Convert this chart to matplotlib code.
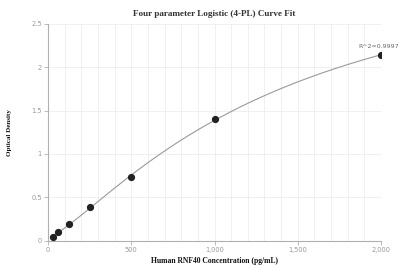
import numpy as np
import matplotlib
matplotlib.use("Agg")
import matplotlib.pyplot as plt
from matplotlib.ticker import FuncFormatter, MultipleLocator

conc = [31.25, 62.5, 125, 250, 500, 1000, 2000]
od = [0.044, 0.100, 0.187, 0.383, 0.733, 1.400, 2.142]
title = "Four parameter Logistic (4-PL) Curve Fit"
xlabel = "Human RNF40 Concentration (pg/mL)"
ylabel = "Optical Density"
r2_text = "R^2=0.9997"

x = np.array(conc, float)
y = np.array(od, float)

def f(p, xx):
    a, b, c, d = p
    return d + (a - d) / (1.0 + (xx / c) ** b)

# Levenberg-Marquardt fit of the 4PL model
p = np.array([0.0, 1.2, 2000.0, 4.0])
lam = 1e-2
def sse(pp):
    return np.sum((f(pp, x) - y) ** 2)
for _ in range(2000):
    r = f(p, x) - y
    J = np.zeros((len(x), 4))
    for k in range(4):
        dp = np.zeros(4)
        h = 1e-6 * max(abs(p[k]), 1e-3)
        dp[k] = h
        J[:, k] = (f(p + dp, x) - f(p - dp, x)) / (2 * h)
    A = J.T @ J
    g = J.T @ r
    step = np.linalg.solve(A + lam * np.diag(np.diag(A) + 1e-12), -g)
    pn = p + step
    if pn[2] > 0 and pn[1] > 0 and sse(pn) < sse(p):
        p = pn
        lam *= 0.5
    else:
        lam *= 4
    if lam > 1e12:
        break

xs = np.linspace(x.min(), x.max(), 400)
ys = f(p, xs)

fig = plt.figure(figsize=(3.98, 2.69), dpi=100)
ax = fig.add_axes([48 / 398, 1 - 240.5 / 269, (381 - 48) / 398, (240.5 - 24) / 269])

ax.plot(xs, ys, color="#9a9a9a", lw=0.8, zorder=2)
ax.plot(x, y, "o", color="#222222", ms=4.2, zorder=3)
ax.annotate(r2_text, (x[-1], y[-1]), xytext=(-1.5, 4), textcoords="offset points",
            ha="center", va="bottom", fontsize=4.5, color="#666666")

ax.set_xlim(0, 2000)
ax.set_ylim(0, 2.5)
ax.xaxis.set_major_locator(MultipleLocator(500))
ax.xaxis.set_minor_locator(MultipleLocator(100))
ax.yaxis.set_major_locator(MultipleLocator(0.5))
ax.xaxis.set_major_formatter(FuncFormatter(lambda v, _: f"{int(v):,}"))
ax.yaxis.set_major_formatter(FuncFormatter(lambda v, _: f"{v:g}"))

ax.grid(True, which="both", axis="x", color="#ececf2", lw=0.6)
ax.grid(True, which="major", axis="y", color="#ececf2", lw=0.6)
ax.set_axisbelow(True)
for s in ["top", "right"]:
    ax.spines[s].set_visible(False)
for s in ["left", "bottom"]:
    ax.spines[s].set_color("#b0b0b0")
    ax.spines[s].set_linewidth(0.8)
ax.tick_params(axis="both", which="major", length=3, width=0.6, color="#b0b0b0",
               labelsize=4.8, labelcolor="#999999", pad=1.5)
ax.tick_params(axis="both", which="minor", length=0)

ax.set_title(title, fontsize=6.6, fontweight="bold", family="Liberation Serif",
             color="#333333", pad=6)
ax.set_xlabel(xlabel, fontsize=5.5, fontweight="bold", family="Liberation Serif",
              color="#111111", labelpad=3)
ax.set_ylabel(ylabel, fontsize=5.0, fontweight="bold", family="Liberation Serif",
              color="#111111")
ax.yaxis.set_label_coords((12 - 48) / 333, 0.5)

fig.savefig("out.png", dpi=100)
